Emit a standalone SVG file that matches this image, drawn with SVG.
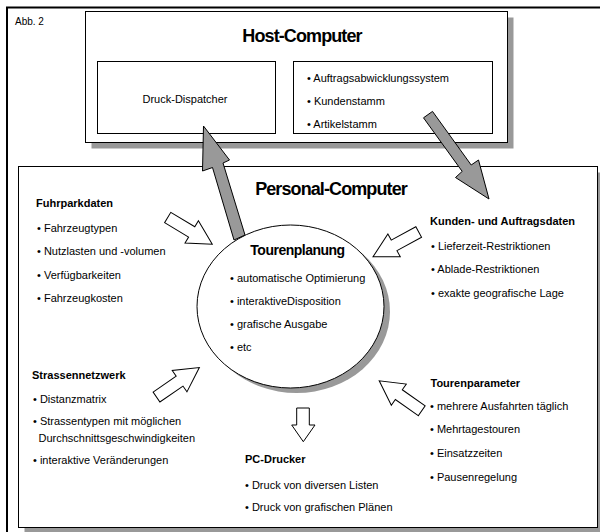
<svg xmlns="http://www.w3.org/2000/svg" xmlns:xlink="http://www.w3.org/1999/xlink" width="600" height="532" viewBox="0 0 600 532">
<style>
.t{font-family:"Liberation Sans",Arial,sans-serif;font-size:11px;fill:#000}
.b{font-weight:bold}
.h{font-family:"Liberation Sans",Arial,sans-serif;font-size:18px;font-weight:bold;fill:#000;text-anchor:middle;letter-spacing:-0.9px}
.box{fill:#fff;stroke:#000;stroke-width:1}
.sh{fill:#999}
.ga{fill:#999;stroke:#000;stroke-width:1;stroke-linejoin:miter}
.wa{fill:#fff;stroke:#000;stroke-width:1}
</style>
<defs>
<path id="wa" d="M0,-6 H28 V-13 L52,0 L28,13 V6 H0 Z"/>
</defs>
<rect x="0" y="0" width="600" height="532" fill="#fff"/>
<rect x="7" y="7.5" width="600" height="532" fill="none" stroke="#000" stroke-width="2"/>
<text class="t" x="15" y="25" style="font-size:10px">Abb. 2</text>

<g id="host">
<rect class="sh" x="91.5" y="17.5" width="422" height="131"/>
<rect class="box" x="85.5" y="11.5" width="422" height="131" stroke="#222"/>
<text class="h" x="302" y="41.5">Host-Computer</text>
</g>
<g id="dispatcher">
<rect class="box" x="97.5" y="61.5" width="178" height="72"/>
<text class="t" x="185" y="103" text-anchor="middle">Druck-Dispatcher</text>
</g>
<g id="hostdata">
<rect class="box" x="293.5" y="61.5" width="199" height="72"/>
<text class="t" x="307" y="82">• Auftragsabwicklungssystem</text>
<text class="t" x="307" y="105">• Kundenstamm</text>
<text class="t" x="307" y="128">• Artikelstamm</text>
</g>

<g id="pc">
<rect class="sh" x="24.5" y="172.5" width="579" height="361"/>
<rect class="box" x="18.5" y="166.5" width="579" height="361"/>
<text class="h" x="331" y="195">Personal-Computer</text>
</g>

<g id="tourenplanung">
<ellipse class="sh" cx="296.5" cy="311.5" rx="93.5" ry="81.5"/>
<ellipse class="box" cx="290.5" cy="306.5" rx="93.5" ry="81.5"/>
<text class="t b" x="297.5" y="255" text-anchor="middle" style="font-size:14px;letter-spacing:-0.5px">Tourenplanung</text>
<text class="t" x="230" y="282">• automatische Optimierung</text>
<text class="t" x="230" y="304.5">• interaktiveDisposition</text>
<text class="t" x="230" y="327.5">• grafische Ausgabe</text>
<text class="t" x="230" y="350.5">• etc</text>
</g>

<g id="fuhrpark">
<text class="t b" x="36" y="207">Fuhrparkdaten</text>
<text class="t" x="37" y="231.5">• Fahrzeugtypen</text>
<text class="t" x="37" y="255">• Nutzlasten und -volumen</text>
<text class="t" x="37" y="278.5">• Verfügbarkeiten</text>
<text class="t" x="37" y="302">• Fahrzeugkosten</text>
</g>

<g id="kunden">
<text class="t b" x="430" y="225">Kunden- und Auftragsdaten</text>
<text class="t" x="431" y="250">• Lieferzeit-Restriktionen</text>
<text class="t" x="431" y="272.5">• Ablade-Restriktionen</text>
<text class="t" x="431" y="296.5">• exakte geografische Lage</text>
</g>

<g id="strassen">
<text class="t b" x="32" y="379">Strassennetzwerk</text>
<text class="t" x="33" y="403">• Distanzmatrix</text>
<text class="t" x="33" y="425">• Strassentypen mit möglichen</text>
<text class="t" x="38.5" y="441.5">Durchschnittsgeschwindigkeiten</text>
<text class="t" x="33" y="464">• interaktive Veränderungen</text>
</g>

<g id="tourenparameter">
<text class="t b" x="430.5" y="386.5">Tourenparameter</text>
<text class="t" x="430" y="409.5">• mehrere Ausfahrten täglich</text>
<text class="t" x="430" y="433">• Mehrtagestouren</text>
<text class="t" x="430" y="457">• Einsatzzeiten</text>
<text class="t" x="430" y="480.5">• Pausenregelung</text>
</g>

<g id="pcdrucker">
<text class="t b" x="245" y="463">PC-Drucker</text>
<text class="t" x="245" y="488.5">• Druck von diversen Listen</text>
<text class="t" x="245" y="511">• Druck von grafischen Plänen</text>
</g>

<g id="connectors">
<polygon class="ga" points="203.5,126 229.5,160 223,163 245,235 234,240 212.5,167.5 202.5,171"/>
<polygon class="ga" points="423.5,117.8 432.5,111.4 471.2,165 478.5,160 489,199 455.5,177.5 462.2,171.4"/>
<use xlink:href="#wa" class="wa" transform="translate(167.7,217.5) rotate(31)"/>
<use xlink:href="#wa" class="wa" transform="translate(418.7,232) rotate(151.5)"/>
<use xlink:href="#wa" class="wa" transform="translate(156.5,397) rotate(-34.5)"/>
<use xlink:href="#wa" class="wa" transform="translate(421.7,410.8) rotate(-144.8)"/>
<path class="wa" d="M296.7,408 H309.3 V425 H315 L303.3,441.7 L291.7,425 H296.7 Z"/>
</g>
</svg>
